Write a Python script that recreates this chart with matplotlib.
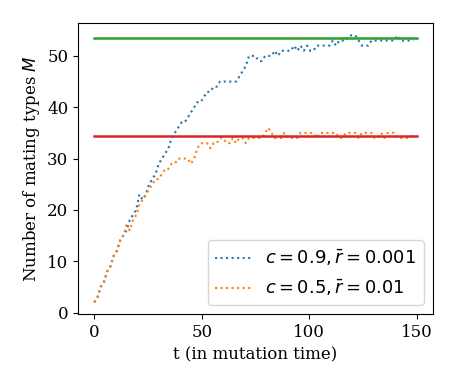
import numpy as np
import matplotlib
matplotlib.use("Agg")
import matplotlib.pyplot as plt

plt.rcParams['font.family'] = 'DejaVu Serif'
plt.rcParams['mathtext.fontset'] = 'dejavusans'
plt.rcParams['font.size'] = 12

# tiempo (en unidades de mutación), muestreo cada 1.5
t = np.arange(100) * 1.5

# c = 0.9, r = 0.001
m_blue = [2, 3, 5, 6, 8, 9, 11, 12, 14, 15,
          16, 18, 19, 20, 23, 22, 23, 25, 26, 27,
          29, 30, 31, 32, 34, 35, 36, 37, 37, 38,
          39, 40, 41, 41, 42, 43, 43, 44, 44, 45,
          45, 45, 45, 45, 45, 46, 47, 48, 50, 50,
          50, 49, 49, 50, 50, 50, 51, 50, 51, 51,
          51, 51, 52, 51, 52, 51, 52, 51, 51, 52,
          52, 52, 52, 52, 53, 52, 53, 53, 53, 54,
          54, 54, 53, 52, 52, 52, 53, 53, 53, 53,
          53, 53, 53, 53, 54, 53, 53, 53, 53, 53]

# c = 0.5, r = 0.01
m_orange = [2, 3, 5, 6, 8, 9, 11, 12, 14, 15,
            17, 16, 18, 19, 21, 22, 23, 24, 25, 26,
            26, 27, 28, 28, 29, 29, 30, 30, 30, 30,
            29, 30, 32, 33, 33, 33, 32, 33, 33, 34,
            34, 33, 33, 34, 33, 34, 34, 33, 34, 34,
            34, 34, 34, 35, 36, 35, 34, 34, 34, 35,
            34, 34, 34, 34, 35, 35, 35, 35, 35, 34,
            35, 35, 35, 35, 35, 35, 34, 34, 35, 35,
            35, 35, 34, 35, 35, 35, 35, 34, 34, 35,
            34, 35, 35, 35, 34, 34, 34, 34, 34, 35]

# valores teóricos (líneas horizontales)
t_ref = [0, 150]
m_ref_green = 53.5
m_ref_red = 34.3

labels = [r'$c = 0.9, \bar{r} = 0.001$', r'$c = 0.5, \bar{r} = 0.01$']

fig = plt.figure(figsize=(4.57, 3.84), dpi=100)
ax = fig.add_axes([0.171, 0.182, 0.776, 0.758])

ax.plot(t, m_blue, ':', color='C0', lw=1.5, label=labels[0])
ax.plot(t, m_orange, ':', color='C1', lw=1.5, label=labels[1])
ax.plot(t_ref, [m_ref_green, m_ref_green], '-', color='C2', lw=1.8)
ax.plot(t_ref, [m_ref_red, m_ref_red], '-', color='C3', lw=1.8)

ax.set_ylim(-0.3, 56.4)
ax.set_xticks([0, 50, 100, 150])
ax.set_yticks([0, 10, 20, 30, 40, 50])
ax.set_xlabel('t (in mutation time)', fontsize=12)
ax.set_ylabel('Number of mating types $M$', fontsize=12)
ax.legend(loc='lower right', fontsize=13)

fig.savefig('out.png', dpi=100)
